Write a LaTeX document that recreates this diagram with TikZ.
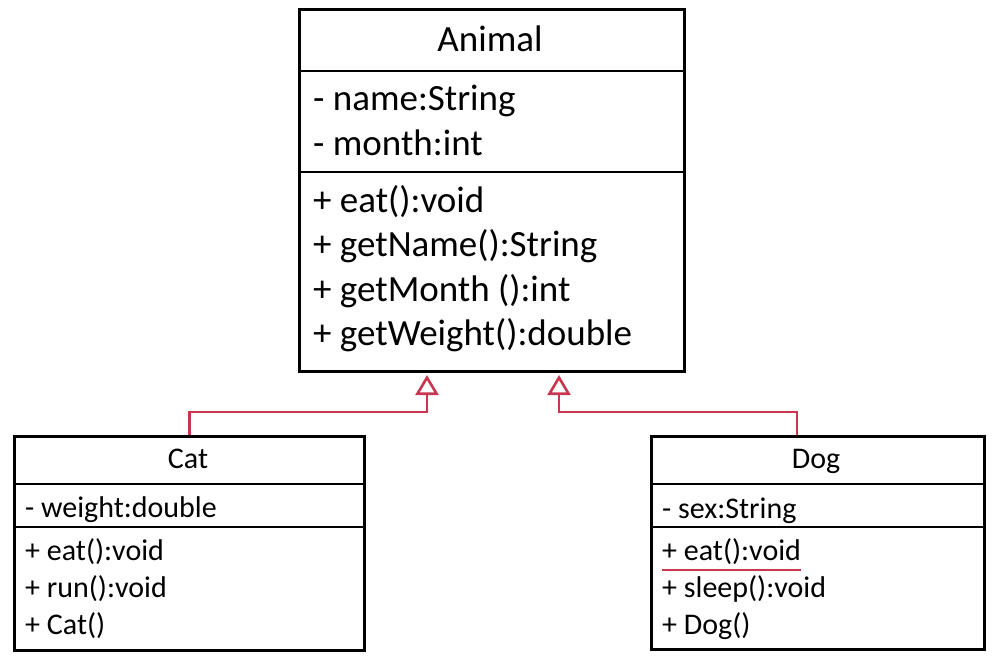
\documentclass[tikz,border=0pt]{standalone}
\usepackage{fontspec}
\setmainfont{Carlito}
\usetikzlibrary{arrows.meta}
\definecolor{inhred}{RGB}{200,55,80}
\tikzset{
  classbox/.style={draw=black, line width=2.8pt, fill=none, inner sep=0pt, anchor=north west},
  divider/.style={draw=black, line width=2pt},
  bigtxt/.style={font=\fontsize{37}{44}\selectfont, inner sep=0pt, anchor=base west},
  bigtitle/.style={font=\fontsize{37}{44}\selectfont, inner sep=0pt, anchor=base},
  smalltxt/.style={font=\fontsize{30}{36}\selectfont, inner sep=0pt, anchor=base west},
  smalltitle/.style={font=\fontsize{30}{36}\selectfont, inner sep=0pt, anchor=base},
  inherit/.style={draw=inhred, line width=2.6pt, -{Triangle[open, length=20pt, width=23pt, line width=2.6pt]}},
  ul/.style={draw=inhred, line width=2.2pt},
}
\begin{document}
\begin{tikzpicture}[x=1pt, y=-1pt]
\useasboundingbox (0,0) rectangle (993,662);
% Animal
\node[classbox, minimum width=385pt, minimum height=362pt] (animal) at (298,8) {};
\draw[divider] (298,71) -- (683,71);
\draw[divider] (298,172) -- (683,172);
\node[bigtitle] (atitle) at (490,51) {Animal};
\node[bigtxt] (aname) at (313,110) {- name:String};
\node[bigtxt] (amonth) at (313,155) {- month:int};
\node[bigtxt] (aeat) at (313,212) {+ eat():void};
\node[bigtxt] (agetname) at (313,256.5) {+ getName():String};
\node[bigtxt] (agetmonth) at (313,301) {+ getMonth ():int};
\node[bigtxt] (agetweight) at (313,345.5) {+ getWeight():double};
% Cat
\node[classbox, minimum width=350pt, minimum height=214pt] (cat) at (13,435) {};
\draw[divider] (13,484) -- (363,484);
\draw[divider] (13,527) -- (363,527);
\node[smalltitle] (ctitle) at (188,468) {Cat};
\node[smalltxt] (cweight) at (25,517) {- weight:double};
\node[smalltxt] (ceat) at (25,560) {+ eat():void};
\node[smalltxt] (crun) at (25,597) {+ run():void};
\node[smalltxt] (ccat) at (25,634) {+ Cat()};
% Dog
\node[classbox, minimum width=333pt, minimum height=213pt] (dog) at (650,435) {};
\draw[divider] (650,484) -- (983,484);
\draw[divider] (650,527) -- (983,527);
\node[smalltitle] (dtitle) at (816,468) {Dog};
\node[smalltxt] (dsex) at (662,518) {- sex:String};
\node[smalltxt] (deat) at (662,560) {+ eat():void};
\node[smalltxt] (dsleep) at (662,597) {+ sleep():void};
\node[smalltxt] (ddog) at (662,634) {+ Dog()};
\draw[ul] ([yshift=-10pt]deat.base west) -- ([yshift=-10pt]deat.base east);
% inheritance
\coordinate (tipc) at (427,375);
\coordinate (tipd) at (559,375);
\coordinate (jc) at (427,412);
\coordinate (jd) at (559,412);
\coordinate (dogtop) at (797,435);
\draw[inherit] (cat.north) |- (jc) -- (tipc);
\draw[inherit] (dogtop) |- (jd) -- (tipd);
\end{tikzpicture}
\end{document}
